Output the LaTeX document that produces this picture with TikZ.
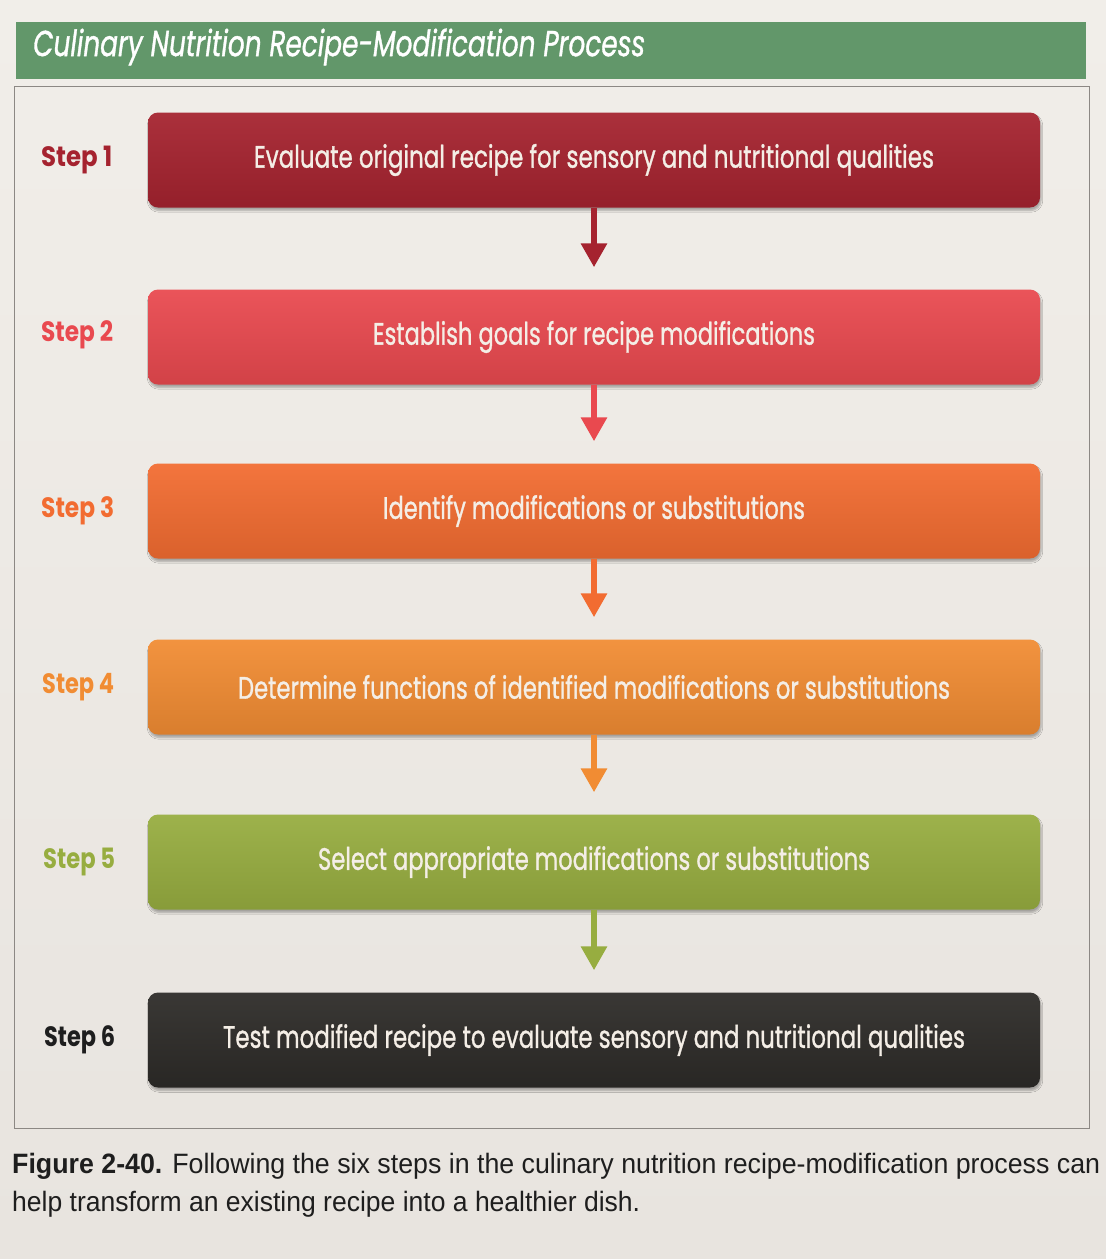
\documentclass[tikz,border=0pt]{standalone}
\usepackage{fontspec}
\usepackage{graphicx}
\usetikzlibrary{arrows.meta,shadows.blur}

\newfontfamily\geofont[FakeBold=1.2]{Poppins}
\newfontfamily\geobold{Poppins}
\newfontfamily\capfont{Liberation Sans}

% palette
\definecolor{papertop}{HTML}{F1EEE9}
\definecolor{paperbot}{HTML}{E8E4DF}
\definecolor{headgreen}{HTML}{62976A}
\definecolor{framegray}{HTML}{8C8884}
\definecolor{boxtext}{HTML}{F4EEE6}
\definecolor{cOne}{HTML}{A5232F}
\definecolor{cTwo}{HTML}{E9494F}
\definecolor{cThree}{HTML}{F26C31}
\definecolor{cFour}{HTML}{F18C33}
\definecolor{cFive}{HTML}{97AD40}
\definecolor{cSix}{HTML}{2D2B28}
\definecolor{capink}{HTML}{1E1E1E}

% squeeze a text horizontally to a given width, keeping its height
\newcommand\fitto[2]{\resizebox{#1}{\height}{#2}}

\tikzset{
  stepbox/.style={
    rounded corners=10pt, minimum width=892pt, minimum height=95pt,
    inner sep=0pt, text=boxtext,
    font=\geofont\fontsize{31}{33}\selectfont,
    top color=#1!94!white, middle color=#1, bottom color=#1!90!black,
    blur shadow={shadow xshift=1pt, shadow yshift=-3pt,
                 shadow opacity=30, shadow blur steps=6}},
  steplabel/.style={anchor=west, inner sep=0pt, text=#1,
    font=\geobold\bfseries\fontsize{28}{30}\selectfont},
  flow/.style={draw=#1, line width=6pt,
    -{Triangle[width=25pt,length=24pt]}, shorten >=22pt},
  capline/.style={anchor=west, inner sep=0pt, text=capink,
    font=\capfont\fontsize{28}{30}\selectfont}
}

\begin{document}
\begin{tikzpicture}[x=1pt,y=-1pt]
  % page
  \shade[top color=papertop, bottom color=paperbot] (0,0) rectangle (1106,1259);
  \useasboundingbox (0,0) rectangle (1106,1259);

  % title band
  \fill[headgreen] (16,22) rectangle (1086,79);
  \node[anchor=west, inner sep=0pt, text=white,
        font=\geofont\itshape\fontsize{36}{38}\selectfont]
        (title) at (33,47) {\fitto{612pt}{Culinary Nutrition Recipe-Modification Process}};

  % frame around the steps
  \draw[framegray, line width=1pt] (14,86) rectangle (1089,1128);

  % step boxes
  \node[stepbox=cOne]   (s1) at (594,160)  {\fitto{680pt}{Evaluate original recipe for sensory and nutritional qualities}};
  \node[stepbox=cTwo]   (s2) at (594,337)  {\fitto{442pt}{Establish goals for recipe modifications}};
  \node[stepbox=cThree] (s3) at (594,511)  {\fitto{422pt}{Identify modifications or substitutions}};
  \node[stepbox=cFour]  (s4) at (594,687)  {\fitto{712pt}{Determine functions of identified modifications or substitutions}};
  \node[stepbox=cFive]  (s5) at (594,862)  {\fitto{552pt}{Select appropriate modifications or substitutions}};
  \node[stepbox=cSix]   (s6) at (594,1040) {\fitto{742pt}{Test modified recipe to evaluate sensory and nutritional qualities}};

  % step labels
  \node[steplabel=cOne]   (l1) at (41,160)  {\fitto{71pt}{Step 1}};
  \node[steplabel=cTwo]   (l2) at (41,335)  {\fitto{72pt}{Step 2}};
  \node[steplabel=cThree] (l3) at (41,511)  {\fitto{73pt}{Step 3}};
  \node[steplabel=cFour]  (l4) at (42,687)  {\fitto{72pt}{Step 4}};
  \node[steplabel=cFive]  (l5) at (43,862)  {\fitto{72pt}{Step 5}};
  \node[steplabel=capink] (l6) at (44,1040) {\fitto{71pt}{Step 6}};

  % connectors
  \draw[flow=cOne]   (s1.south) -- (s2.north);
  \draw[flow=cTwo]   (s2.south) -- (s3.north);
  \draw[flow=cThree] (s3.south) -- (s4.north);
  \draw[flow=cFour]  (s4.south) -- (s5.north);
  \draw[flow=cFive]  (s5.south) -- (s6.north);

  % caption
  \node[capline] (cap1) at (12,1166)
    {\fitto{1088pt}{\textbf{Figure 2-40.} Following the six steps in the culinary nutrition recipe-modification process can}};
  \node[capline] (cap2) at (12,1204)
    {\fitto{628pt}{help transform an existing recipe into a healthier dish.}};
\end{tikzpicture}
\end{document}
